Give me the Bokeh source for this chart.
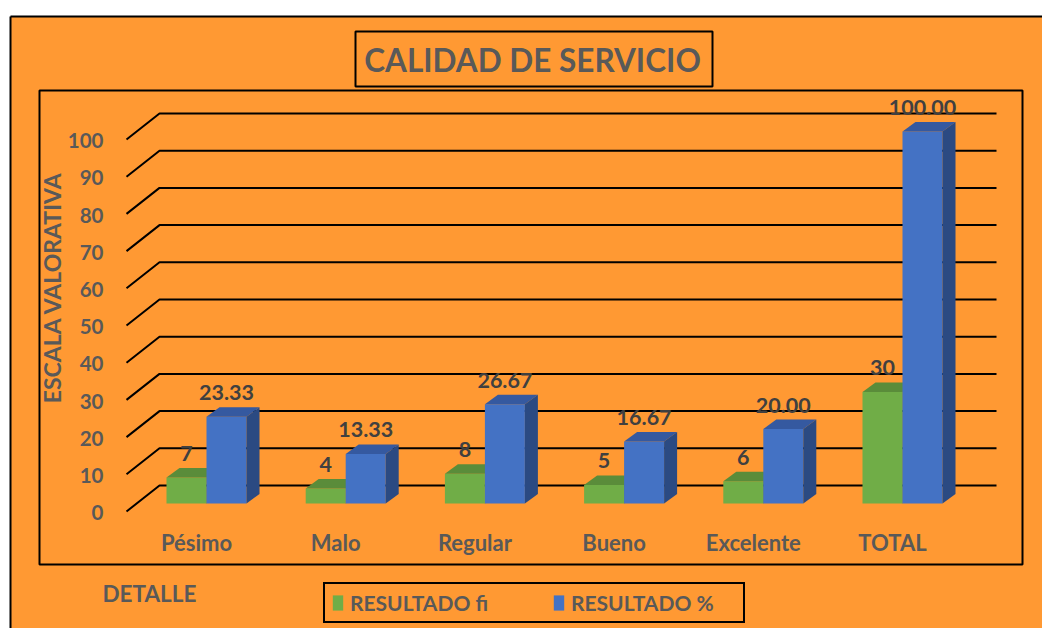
import numpy as np
from bokeh.plotting import figure
from bokeh.models import Range1d, Legend, LegendItem
from bokeh.core.properties import value
from bokeh.embed import file_html
from bokeh.resources import INLINE

# ---------------- data ----------------
categories = ["Pésimo", "Malo", "Regular", "Bueno", "Excelente", "TOTAL"]
resultado_fi = [7, 4, 8, 5, 6, 30]
resultado_pct = [23.33, 13.33, 26.67, 16.67, 20.00, 100.00]
fi_labels = ["7", "4", "8", "5", "6", "30"]
pct_labels = ["23.33", "13.33", "26.67", "16.67", "20.00", "100.00"]
y_ticks = [0, 10, 20, 30, 40, 50, 60, 70, 80, 90, 100]
y_tick_labels = [str(t) for t in y_ticks]
title_text = "CALIDAD DE SERVICIO"
y_title = "ESCALA VALORATIVA"
x_title = "DETALLE"
series_names = ["RESULTADO fi", "RESULTADO %"]

# ---------------- style / layout ----------------
ORANGE = "#FF9933"
GREEN, GREEN_TOP, GREEN_SIDE = "#70AD47", "#5A8C3A", "#4E7A31"
BLUE, BLUE_TOP, BLUE_SIDE = "#4472C4", "#3559A0", "#2B4A82"
GREY, DARK = "#595959", "#404040"
FONT = "Lato"

PAGE_OFF = 0                   # figure origin in the picture
W, H = 1042, 628               # figure size (frame = whole figure)
CAT0, CATW = 206.0, 139.2      # px of first category centre, px per category
BASE, UNIT = 503.0, 3.72       # px of value 0 at bar base, px per unit


def X(px):
    return (px - CAT0) / CATW


def Y(py):
    return (BASE - py) / UNIT


BAR_W = 40 / CATW
DX, DY = 13 / CATW, 9.5 / UNIT          # bar depth
FRONT_DY, BACK_DY = 8 / UNIT, 18 / UNIT  # wall gridline offsets

p = figure(
    width=W, height=H, output_backend="svg", toolbar_location=None,
    x_range=Range1d(X(PAGE_OFF), X(PAGE_OFF + W)),
    y_range=Range1d(Y(PAGE_OFF + H), Y(PAGE_OFF)),
    x_axis_location=None, y_axis_location=None,
    min_border=0, background_fill_color="white", border_fill_color="white",
    outline_line_color=None,
)
p.grid.visible = False

# chart area (orange) with its top/left border
p.quad(left=[X(10)], right=[X(1100)], top=[Y(16)], bottom=[Y(700)],
       fill_color=ORANGE, line_color=None)
p.multi_line(xs=[[X(10), X(1100)], [X(10), X(10)]],
             ys=[[Y(16), Y(16)], [Y(16), Y(700)]], line_color="black", line_width=2)

# plot-area box
p.quad(left=[X(39)], right=[X(1022)], top=[Y(90)], bottom=[Y(564)],
       fill_color=None, line_color="black", line_width=2)

# title box
p.quad(left=[X(355)], right=[X(712)], top=[Y(31)], bottom=[Y(86)],
       fill_color=None, line_color="black", line_width=2)
p.text(x=[X(532)], y=[Y(59)], text=[title_text], text_font=value(FONT),
       text_font_style="bold", text_font_size="31.5px", text_color=GREY,
       text_align="center", text_baseline="middle")

# wall gridlines (3D look)
gx_front, gx_back, gx_right = X(126), X(159), X(996)
p.multi_line(
    xs=[[gx_front, gx_back, gx_right] for _ in y_ticks],
    ys=[[t - FRONT_DY, t + BACK_DY, t + BACK_DY] for t in y_ticks],
    line_color="black", line_width=2,
)

idx = np.arange(len(categories))
green_x = idx - BAR_W / 2
blue_x = idx + BAR_W / 2
fi = np.array(resultado_fi, dtype=float)
pct = np.array(resultado_pct, dtype=float)


def top_face(xc, t):
    l, r = xc - BAR_W / 2, xc + BAR_W / 2
    return [[a, b, b + DX, a + DX] for a, b in zip(l, r)], [[v, v, v + DY, v + DY] for v in t]


def side_face(xc, t):
    r = xc + BAR_W / 2
    return [[b, b, b + DX, b + DX] for b in r], [[0, v, v + DY, DY] for v in t]


sx, sy = side_face(green_x, fi)
p.patches(sx, sy, fill_color=GREEN_SIDE, line_color=None)
g = p.vbar(x=green_x, top=fi, bottom=0, width=BAR_W, fill_color=GREEN, line_color=None)
tx, ty = top_face(green_x, fi)
p.patches(tx, ty, fill_color=GREEN_TOP, line_color=None)

b = p.vbar(x=blue_x, top=pct, bottom=0, width=BAR_W, fill_color=BLUE, line_color=None)
tx, ty = top_face(blue_x, pct)
p.patches(tx, ty, fill_color=BLUE_TOP, line_color=None)
sx, sy = side_face(blue_x, pct)
p.patches(sx, sy, fill_color=BLUE_SIDE, line_color=None)

LABEL_DY = 24 / UNIT
txt = dict(text_font=value(FONT), text_font_style="bold", text_align="center",
           text_baseline="middle")
p.text(x=green_x, y=fi + LABEL_DY, text=fi_labels, text_font_size="21.5px",
       text_color=DARK, **txt)
p.text(x=blue_x, y=pct + LABEL_DY, text=pct_labels, text_font_size="21.5px",
       text_color=DARK, **txt)

# y tick labels (front edge of the wall)
p.text(x=[X(103)] * len(y_ticks), y=[t - FRONT_DY - 0.3 for t in y_ticks],
       text=y_tick_labels, text_font=value(FONT), text_font_style="bold",
       text_font_size="20.5px", text_color=GREY, text_align="right",
       text_baseline="middle")

# category labels
p.text(x=idx - 10 / CATW, y=[Y(542)] * len(categories), text=categories,
       text_font_size="22px", text_color=GREY, **txt)

# axis titles
p.text(x=[X(51)], y=[Y(287)], text=[y_title], angle=np.pi / 2,
       text_font_size="23px", text_color=GREY, **txt)
p.text(x=[X(102)], y=[Y(593)], text=[x_title], text_font=value(FONT),
       text_font_style="bold", text_font_size="22.5px", text_color=GREY,
       text_align="left", text_baseline="middle")

legend = Legend(
    items=[LegendItem(label=series_names[0], renderers=[g]),
           LegendItem(label=series_names[1], renderers=[b])],
    orientation="horizontal", location=(323 - PAGE_OFF, H - 623), margin=0, padding=6,
    spacing=36, label_width=166, glyph_width=13, glyph_height=19, label_standoff=6,
    border_line_color="black", border_line_width=2, border_line_alpha=1.0,
    background_fill_color=ORANGE, background_fill_alpha=1.0,
    label_text_font=FONT, label_text_font_style="bold", label_text_font_size="21px",
    label_text_color=GREY,
)
p.add_layout(legend)

open("out.html", "w").write(file_html(p, INLINE))
